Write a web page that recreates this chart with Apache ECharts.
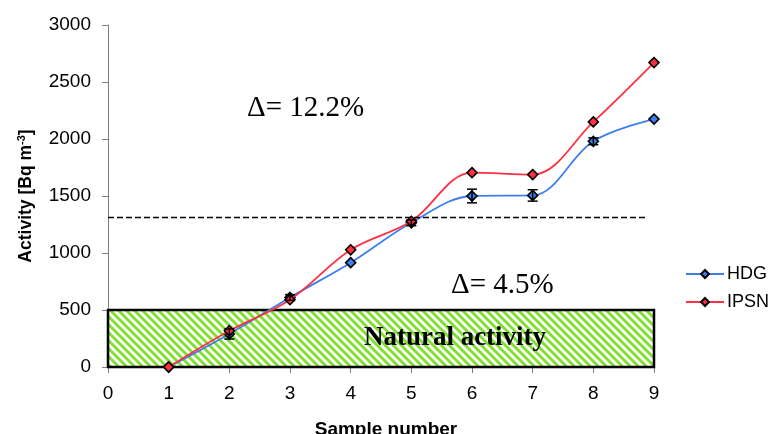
<!DOCTYPE html>
<html><head><meta charset="utf-8">
<script src="https://cdn.jsdelivr.net/npm/echarts@6/dist/echarts.min.js"></script>
<style>html,body{margin:0;padding:0;background:#fff}#c{width:773px;height:434px}</style>
</head><body><div id="c"></div>
<script>
const samples = [1, 2, 3, 4, 5, 6, 7, 8, 9];
const hdg = [0, 290, 610, 915, 1265, 1500, 1505, 1980, 2175];
const hdgErr = [0, 45, 25, 0, 25, 60, 50, 30, 0];
const ipsn = [0, 318, 590, 1028, 1278, 1705, 1688, 2150, 2670];
const xTicks = [0, 1, 2, 3, 4, 5, 6, 7, 8, 9];
const yTicks = [0, 500, 1000, 1500, 2000, 2500, 3000];
const dashedLevel = 1310;
const naturalLevel = 500;
const deltaLabels = ['Δ= 12.2%', 'Δ= 4.5%'];

const cv = document.createElement('canvas');
cv.width = 8; cv.height = 8;
const cx = cv.getContext('2d');
cx.fillStyle = '#ffffff'; cx.fillRect(0, 0, 8, 8);
cx.strokeStyle = '#7fe030'; cx.lineWidth = 3;
for (const c of [-8, 0, 8]) { cx.beginPath(); cx.moveTo(-2, -2 + c); cx.lineTo(10, 10 + c); cx.stroke(); }

const chart = echarts.init(document.getElementById('c'));
const pair = (a) => samples.map((s, i) => [s, a[i]]);
const errData = samples.map((s, i) => [s, hdg[i] - hdgErr[i], hdg[i] + hdgErr[i]]).filter((d, i) => hdgErr[i] > 0);

chart.setOption({
  animation: false,
  grid: { left: 108, right: 119, top: 25, bottom: 67 },
  xAxis: {
    type: 'value', min: xTicks[0], max: xTicks[xTicks.length - 1], interval: 1,
    axisLine: { lineStyle: { color: '#808080', width: 1 } },
    axisTick: { show: true, length: 6, lineStyle: { color: '#808080' } },
    axisLabel: { fontFamily: 'Liberation Sans, Arial', fontSize: 19, color: '#000', margin: 17, formatter: (v) => String(v) },
    splitLine: { show: false }
  },
  yAxis: {
    type: 'value', min: yTicks[0], max: yTicks[yTicks.length - 1], interval: 500,
    axisLine: { show: true, lineStyle: { color: '#808080', width: 1 } },
    axisTick: { show: true, length: 6, lineStyle: { color: '#808080' } },
    axisLabel: { fontFamily: 'Liberation Sans, Arial', fontSize: 19, color: '#000', margin: 17, formatter: (v) => String(v) },
    splitLine: { show: false }
  },
  legend: {
    left: 680, top: 260, orient: 'vertical', itemGap: 10, itemWidth: 38, itemHeight: 10,
    textStyle: { fontFamily: 'Liberation Sans, Arial', fontSize: 18, color: '#000', padding: [0, 0, 0, -2] },
    data: ['HDG', 'IPSN']
  },
  series: [
    {
      name: 'area', type: 'line', data: [], silent: true,
      markArea: {
        silent: true,
        itemStyle: { color: { image: cv, repeat: 'repeat' }, borderColor: '#000', borderWidth: 2.5 },
        label: { show: true, position: 'inside', offset: [74, 0], formatter: 'Natural activity',
          fontFamily: 'Liberation Serif, Times New Roman', fontWeight: 'bold', fontSize: 27, color: '#000' },
        data: [[{ coord: [xTicks[0], 0] }, { coord: [xTicks[xTicks.length - 1], naturalLevel] }]]
      },
      markLine: {
        silent: true, symbol: 'none', label: { show: false },
        lineStyle: { color: '#000', type: [6, 3], width: 1.3 },
        data: [[{ coord: [0, dashedLevel] }, { coord: [8.9, dashedLevel] }]]
      }
    },
    {
      name: 'HDG', type: 'line', data: pair(hdg), smooth: 0.35,
      symbol: 'diamond', symbolSize: 10,
      lineStyle: { color: '#3c7ef0', width: 1.8 },
      itemStyle: { color: '#3c7ef0', borderColor: '#000', borderWidth: 1.6 }, z: 3
    },
    {
      name: 'IPSN', type: 'line', data: pair(ipsn), smooth: 0.35,
      symbol: 'diamond', symbolSize: 10,
      lineStyle: { color: '#ff3040', width: 1.8 },
      itemStyle: { color: '#ff3040', borderColor: '#000', borderWidth: 1.6 }, z: 4
    },
    {
      name: 'err', type: 'custom', data: errData, z: 5,
      renderItem: (params, api) => {
        const x = api.value(0);
        const lo = api.coord([x, api.value(1)]);
        const hi = api.coord([x, api.value(2)]);
        const w = 5;
        const st = { stroke: '#000', lineWidth: 1.5 };
        return { type: 'group', children: [
          { type: 'line', shape: { x1: lo[0], y1: lo[1], x2: hi[0], y2: hi[1] }, style: st },
          { type: 'line', shape: { x1: lo[0] - w, y1: lo[1], x2: lo[0] + w, y2: lo[1] }, style: st },
          { type: 'line', shape: { x1: hi[0] - w, y1: hi[1], x2: hi[0] + w, y2: hi[1] }, style: st }
        ]};
      }
    }
  ],
  graphic: [
    { type: 'text', x: 247, y: 108, style: { text: deltaLabels[0], fontFamily: 'Liberation Serif, Times New Roman', fontSize: 29, fill: '#000', verticalAlign: 'middle' } },
    { type: 'text', x: 451, y: 285, style: { text: deltaLabels[1], fontFamily: 'Liberation Serif, Times New Roman', fontSize: 29, fill: '#000', verticalAlign: 'middle' } },
    { type: 'text', x: 386, y: 420, style: { text: 'Sample number', fontFamily: 'Liberation Sans, Arial', fontWeight: 'bold', fontSize: 19, fill: '#000', align: 'center', verticalAlign: 'top' } },
    { type: 'text', x: 26, y: 196, rotation: Math.PI / 2,
      style: { text: '{a|Activity [Bq m}{s|-3}{a|]}', align: 'center', verticalAlign: 'middle',
        rich: { a: { fontFamily: 'Liberation Sans, Arial', fontWeight: 'bold', fontSize: 17.5, fill: '#000', lineHeight: 20 },
                s: { fontFamily: 'Liberation Sans, Arial', fontWeight: 'bold', fontSize: 11, fill: '#000', lineHeight: 20, verticalAlign: 'top', padding: [0, 0, 8, 0] } } } }
  ]
});
</script></body></html>
